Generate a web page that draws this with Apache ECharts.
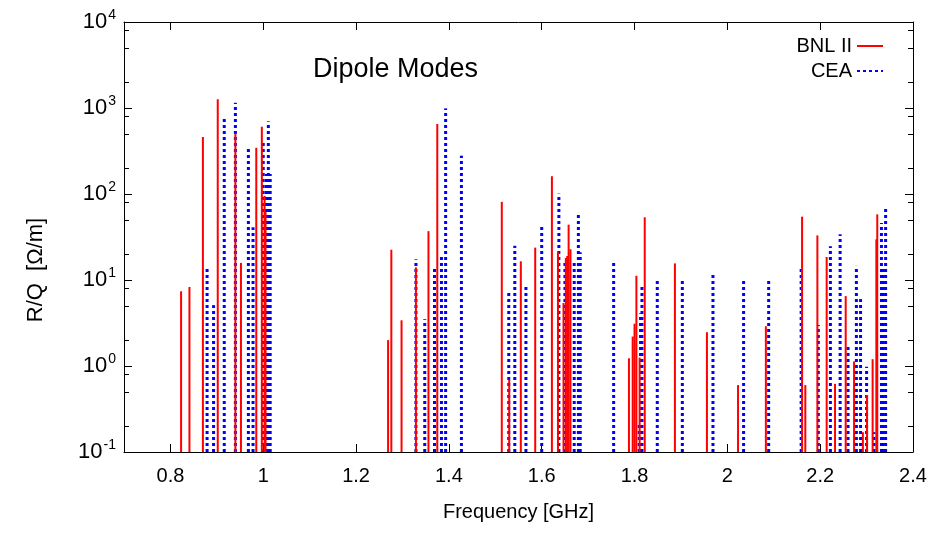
<!DOCTYPE html>
<html>
<head>
<meta charset="utf-8">
<script src="https://cdn.jsdelivr.net/npm/echarts@6/dist/echarts.min.js"></script>
<style>html,body{margin:0;padding:0;background:#fff}#c{width:933px;height:533px}</style>
</head>
<body>
<div id="c"></div>
<script>
// BNL II modes: frequency [GHz], R/Q [Ohm/m]
const bnlFreq = [0.823,0.841,0.870,0.902,0.940,0.952,0.985,0.997,1.003,1.005,
  1.269,1.276,1.298,1.329,1.356,1.375,
  1.514,1.530,1.555,1.586,1.622,1.635,1.647,1.652,1.655,1.658,1.662,
  1.788,1.796,1.800,1.804,1.811,1.822,1.887,1.956,2.023,2.083,
  2.161,2.168,2.194,2.214,2.232,2.255,2.273,2.292,2.301,2.313,2.321,2.323];
const bnlRQ = [7.4,8.3,460,1260,510,15.8,346,606,95,62,
  2.0,22.5,3.4,14,37,650,
  81,0.69,16.5,23.8,161,21,5.4,18,19,44,22.8,
  1.23,2.2,3.1,11.2,1.25,53.6,15.6,2.47,0.6,2.9,
  54.5,0.6,33,18.5,0.62,6.5,1.13,0.17,0.46,1.2,29.7,58];
// CEA modes
const ceaFreq = [0.879,0.893,0.916,0.940,0.968,0.978,1.000,1.007,1.011,1.015,
  1.329,1.348,1.369,1.384,1.393,1.427,
  1.529,1.542,1.566,1.600,1.637,1.650,1.670,1.679,1.683,1.755,
  1.810,1.813,1.816,1.849,1.903,1.969,2.035,2.089,
  2.159,2.196,2.222,2.243,2.260,2.278,2.287,2.300,2.316,2.332,2.336,2.341];
const ceaRQ = [14.5,5.1,785,1150,350,41,413,171,700,171,
  17.4,3.5,14.5,20,990,279,
  7.2,25,8.6,42,101,17,17,58,21,17,
  0.22,4.1,8.5,10.3,10.3,12.3,10.3,10.3,
  13.7,3.0,24.7,34,1.8,14.6,6.0,0.98,0.17,46,13.7,68];
const xTickValues = [0.8,1.0,1.2,1.4,1.6,1.8,2.0,2.2,2.4];
const yMajorValues = [0.1,1,10,100,1000,10000];
const yMinorValues = [0.2,0.5,0.8,2,5,8,20,50,80,200,500,800,2000,5000,8000];

const FONT = 'Liberation Sans, Arial, sans-serif';
const pairs = (f, v) => f.map((x, i) => [x, v[i]]);

function stickRenderer(color, width, dash) {
  return function (params, api) {
    const x = api.value(0), y = api.value(1);
    const p0 = api.coord([x, 0.1]);
    const p1 = api.coord([x, y]);
    return {
      type: 'line',
      shape: { x1: p0[0], y1: p0[1], x2: p1[0], y2: p1[1] },
      style: { stroke: color, lineWidth: width, lineDash: dash }
    };
  };
}

const chart = echarts.init(document.getElementById('c'));
const xBase = { type: 'value', min: 0.7, max: 2.4, splitLine: { show: false } };
const yBase = { type: 'log', logBase: 10, min: 0.1, max: 10000, splitLine: { show: false } };
const blackLine = { show: true, lineStyle: { color: '#000', width: 1 } };
const legendCommon = {
  right: 44, align: 'right', itemWidth: 26, itemHeight: 14, selectedMode: false,
  itemStyle: { opacity: 0, color: 'transparent', borderWidth: 0 },
  textStyle: { fontSize: 20, color: '#000', fontFamily: FONT }
};

chart.setOption({
  animation: false,
  backgroundColor: '#fff',
  textStyle: { fontFamily: FONT },
  grid: { left: 124, right: 20, top: 22, bottom: 81, containLabel: false },
  title: {
    text: 'Dipole Modes', left: 308, top: 51,
    textStyle: { fontSize: 27, fontWeight: 'normal', color: '#000', fontFamily: FONT }
  },
  legend: [
    Object.assign({ data: ['BNL II'], top: 31 }, legendCommon),
    Object.assign({ data: ['CEA'], top: 56 }, legendCommon)
  ],
  xAxis: [
    Object.assign({}, xBase, {
      position: 'bottom', axisLine: blackLine,
      axisTick: { show: true, inside: true, length: 8, customValues: xTickValues, lineStyle: { color: '#000' } },
      axisLabel: { customValues: xTickValues, fontSize: 20, color: '#000', margin: 14, fontFamily: FONT,
        formatter: v => String(+v.toFixed(1)) },
      name: 'Frequency [GHz]', nameLocation: 'middle', nameGap: 50,
      nameTextStyle: { fontSize: 20, color: '#000', fontFamily: FONT }
    }),
    Object.assign({}, xBase, {
      position: 'top', axisLine: blackLine,
      axisTick: { show: true, inside: true, length: 8, customValues: xTickValues, lineStyle: { color: '#000' } },
      axisLabel: { show: false }
    })
  ],
  yAxis: [
    Object.assign({}, yBase, {
      position: 'left', axisLine: blackLine,
      axisTick: { show: true, inside: true, length: 8, customValues: yMajorValues, lineStyle: { color: '#000' } },
      axisLabel: {
        customValues: yMajorValues, color: '#000', margin: 8, fontFamily: FONT,
        formatter: v => '{b|10}{s|' + Math.round(Math.log10(v)) + '}',
        rich: {
          b: { fontSize: 22, color: '#000', fontFamily: FONT },
          s: { fontSize: 14, color: '#000', fontFamily: FONT, padding: [0, 0, 14, 1] }
        }
      }
    }),
    Object.assign({}, yBase, {
      position: 'left', axisLine: { show: false },
      axisTick: { show: true, inside: true, length: 5, customValues: yMinorValues, lineStyle: { color: '#000' } },
      axisLabel: { show: false }
    }),
    Object.assign({}, yBase, {
      position: 'right', axisLine: blackLine,
      axisTick: { show: true, inside: true, length: 8, customValues: yMajorValues, lineStyle: { color: '#000' } },
      axisLabel: { show: false }
    }),
    Object.assign({}, yBase, {
      position: 'right', axisLine: { show: false },
      axisTick: { show: true, inside: true, length: 5, customValues: yMinorValues, lineStyle: { color: '#000' } },
      axisLabel: { show: false }
    })
  ],
  graphic: [{
    type: 'text', x: 36, y: 270, rotation: Math.PI / 2,
    style: { text: 'R/Q  [Ω/m]', fontSize: 22, fontFamily: FONT, fill: '#000', align: 'center', verticalAlign: 'middle' }
  }],
  series: [
    { name: 'CEA sticks', type: 'custom', xAxisIndex: 0, yAxisIndex: 0, clip: true,
      renderItem: stickRenderer('#0000ff', 3, [3, 3]), data: pairs(ceaFreq, ceaRQ), z: 2 },
    { name: 'BNL II sticks', type: 'custom', xAxisIndex: 0, yAxisIndex: 0, clip: true,
      renderItem: stickRenderer('#ff0000', 2, null), data: pairs(bnlFreq, bnlRQ), z: 3 },
    { name: 'BNL II', type: 'line', data: [], symbol: 'none', color: '#ff0000', lineStyle: { color: '#ff0000', width: 2 } },
    { name: 'CEA', type: 'line', data: [], symbol: 'none', color: '#0000ff', lineStyle: { color: '#0000ff', width: 3, type: [3, 3] } }
  ]
});
</script>
</body>
</html>
